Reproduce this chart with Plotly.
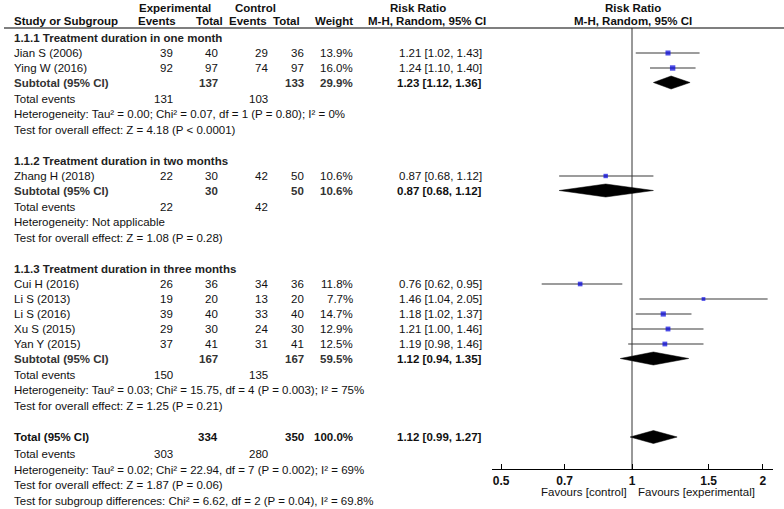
import numpy as np
import plotly.graph_objects as go

W, H = 784, 509
FONT = "Liberation Sans, Arial, sans-serif"

# ---- data ----
studies = ["Jian S (2006)", "Ying W (2016)", "Zhang H (2018)", "Cui H (2016)",
           "Li S (2013)", "Li S (2016)", "Xu S (2015)", "Yan Y (2015)"]
study_group = [0, 0, 1, 2, 2, 2, 2, 2]
exp_events = [39, 92, 22, 26, 19, 39, 29, 37]
exp_total = [40, 97, 30, 36, 20, 40, 30, 41]
ctrl_events = [29, 74, 42, 34, 13, 33, 24, 31]
ctrl_total = [36, 97, 50, 36, 20, 40, 30, 41]
weights = [13.9, 16.0, 10.6, 11.8, 7.7, 14.7, 12.9, 12.5]
rr = [1.21, 1.24, 0.87, 0.76, 1.46, 1.18, 1.21, 1.19]
rr_lo = [1.02, 1.10, 0.68, 0.62, 1.04, 1.02, 1.00, 0.98]
rr_hi = [1.43, 1.40, 1.12, 0.95, 2.05, 1.37, 1.46, 1.46]

groups = ["1.1.1 Treatment duration in one month",
          "1.1.2 Treatment duration in two months",
          "1.1.3 Treatment duration in three months"]
grp_exp_total = [137, 30, 167]
grp_ctrl_total = [133, 50, 167]
grp_exp_events = [131, 22, 150]
grp_ctrl_events = [103, 42, 135]
grp_weight = [29.9, 10.6, 59.5]
grp_rr = [1.23, 0.87, 1.12]
grp_lo = [1.12, 0.68, 0.94]
grp_hi = [1.36, 1.12, 1.35]
grp_het = ["Heterogeneity: Tau² = 0.00; Chi² = 0.07, df = 1 (P = 0.80); I² = 0%",
           "Heterogeneity: Not applicable",
           "Heterogeneity: Tau² = 0.03; Chi² = 15.75, df = 4 (P = 0.003); I² = 75%"]
grp_test = ["Test for overall effect: Z = 4.18 (P < 0.0001)",
            "Test for overall effect: Z = 1.08 (P = 0.28)",
            "Test for overall effect: Z = 1.25 (P = 0.21)"]

tot_exp_total, tot_ctrl_total = 334, 350
tot_exp_events, tot_ctrl_events = 303, 280
tot_weight = 100.0
tot_rr, tot_lo, tot_hi = 1.12, 0.99, 1.27
tot_het = "Heterogeneity: Tau² = 0.02; Chi² = 22.94, df = 7 (P = 0.002); I² = 69%"
tot_test = "Test for overall effect: Z = 1.87 (P = 0.06)"
sub_diff = "Test for subgroup differences: Chi² = 6.62, df = 2 (P = 0.04), I² = 69.8%"

tick_vals = [0.5, 0.7, 1, 1.5, 2]
tick_text = ["0.5", "0.7", "1", "1.5", "2"]

# ---- column x positions (px) ----
X_NAME = 14
X_EE, X_ET, X_CE, X_CT, X_W, X_RR = 173, 218, 268, 304, 353, 482
INK = "#111111"

annotations = []


def txt(x, y, s, anchor="left", bold=False, color=INK, size=11.5):
    annotations.append(dict(
        x=x / W, y=y, xref="paper", yref="y",
        text=f"<b>{s}</b>" if bold else s, showarrow=False,
        xanchor=anchor, yanchor="middle", borderpad=0, borderwidth=0,
        font=dict(family=FONT, size=size, color=color)))


def ci(v, lo, hi):
    return f"{v:.2f} [{lo:.2f}, {hi:.2f}]"


# headers
txt(175, 8, "Experimental", "center", True)
txt(256, 8, "Control", "center", True)
txt(418, 8, "Risk Ratio", "center", True)
txt(633, 8, "Risk Ratio", "center", True)
txt(X_NAME, 21, "Study or Subgroup", "left", True)
txt(176, 21, "Events", "right", True)
txt(223, 21, "Total", "right", True)
txt(267, 21, "Events", "right", True)
txt(300, 21, "Total", "right", True)
txt(353, 21, "Weight", "right", True)
txt(427, 21, "M-H, Random, 95% CI", "center", True)
txt(633, 21, "M-H, Random, 95% CI", "center", True)

# walk down the rows
study_y = [0.0] * len(studies)
grp_y = []
y = 38
for g in range(len(groups)):
    txt(X_NAME, y, groups[g], "left", True, "#222222")
    y += 15
    for i, s in enumerate(studies):
        if study_group[i] != g:
            continue
        study_y[i] = y
        txt(X_NAME, y, s)
        txt(X_EE, y, str(exp_events[i]), "right")
        txt(X_ET, y, str(exp_total[i]), "right")
        txt(X_CE, y, str(ctrl_events[i]), "right")
        txt(X_CT, y, str(ctrl_total[i]), "right")
        txt(X_W, y, f"{weights[i]:.1f}%", "right")
        txt(X_RR, y, ci(rr[i], rr_lo[i], rr_hi[i]), "right")
        y += 15
    y -= 0.5
    grp_y.append(y)
    txt(X_NAME, y, "Subtotal (95% CI)", "left", True, "#333333")
    txt(X_ET, y, str(grp_exp_total[g]), "right", True, "#333333")
    txt(X_CT, y, str(grp_ctrl_total[g]), "right", True, "#333333")
    txt(X_W, y, f"{grp_weight[g]:.1f}%", "right", True, "#333333")
    txt(X_RR, y, ci(grp_rr[g], grp_lo[g], grp_hi[g]), "right", True)
    y += 16
    txt(X_NAME, y, "Total events")
    txt(X_EE, y, str(grp_exp_events[g]), "right")
    txt(X_CE, y, str(grp_ctrl_events[g]), "right")
    y += 15.5
    txt(X_NAME, y, grp_het[g])
    y += 15.5
    txt(X_NAME, y, grp_test[g])
    y += 31.5

tot_y = y
txt(X_NAME, y, "Total (95% CI)", "left", True)
txt(X_ET, y, str(tot_exp_total), "right", True)
txt(X_CT, y, str(tot_ctrl_total), "right", True)
txt(X_W, y, f"{tot_weight:.1f}%", "right", True)
txt(X_RR, y, ci(tot_rr, tot_lo, tot_hi), "right", True)
y += 17
txt(X_NAME, y, "Total events")
txt(X_EE, y, str(tot_exp_events), "right")
txt(X_CE, y, str(tot_ctrl_events), "right")
y += 15.5
txt(X_NAME, y, tot_het)
y += 15.5
txt(X_NAME, y, tot_test)
y += 15.5
txt(X_NAME, y, sub_diff)

AXIS_Y = 469
txt(627, 492, "Favours [control]", "right")
txt(638, 492, "Favours [experimental]", "left")

fig = go.Figure()

# reference line at RR = 1
fig.add_trace(go.Scatter(x=[1, 1], y=[28, AXIS_Y], mode="lines",
                         line=dict(color="#333333", width=1), hoverinfo="skip"))

# study CIs
cx, cy = [], []
for i in range(len(studies)):
    cx += [rr_lo[i], rr_hi[i], None]
    cy += [study_y[i], study_y[i], None]
fig.add_trace(go.Scatter(x=cx, y=cy, mode="lines",
                         line=dict(color="#3a3a3a", width=1.2), hoverinfo="skip"))

# study point estimates, square area ~ weight
fig.add_trace(go.Scatter(
    x=rr, y=study_y, mode="markers",
    marker=dict(symbol="square", color="#0000dd",
                size=[1.35 * np.sqrt(w) for w in weights], line_width=0),
    hoverinfo="skip"))

# diamonds
HALF = 6.5
for v, lo, hi, yy in list(zip(grp_rr, grp_lo, grp_hi, grp_y)) + [(tot_rr, tot_lo, tot_hi, tot_y)]:
    fig.add_trace(go.Scatter(
        x=[lo, v, hi, v, lo], y=[yy, yy - HALF, yy, yy + HALF, yy],
        mode="lines", fill="toself", fillcolor="black",
        line=dict(color="black", width=0.5), hoverinfo="skip"))

# header rule
fig.add_shape(type="line", xref="paper", yref="y", x0=4 / W, x1=1, y0=28, y1=28,
              line=dict(color="black", width=1.2))

ax_left, ax_right = 492, 773
px_per_dec = 435.0
x_one = 632
fig.update_layout(
    width=W, height=H,
    margin=dict(l=0, r=0, t=0, b=0),
    paper_bgcolor="white", plot_bgcolor="white",
    showlegend=False,
    annotations=annotations,
    xaxis=dict(
        type="log", domain=[ax_left / W, ax_right / W],
        range=[(ax_left - x_one) / px_per_dec, (ax_right - x_one) / px_per_dec],
        anchor="free", position=(H - AXIS_Y) / H,
        showline=True, linecolor="black", linewidth=1.2,
        ticks="inside", ticklen=5, tickwidth=1.2, tickcolor="black",
        tickvals=tick_vals, ticktext=tick_text,
        tickfont=dict(family=FONT, size=12, color=INK, weight="bold"),
        showgrid=False, zeroline=False, fixedrange=True,
    ),
    yaxis=dict(range=[H, 0], domain=[0, 1], visible=False, fixedrange=True),
)

# the page body has a default 8px margin; drop it so the figure fills the window
fig.write_html("out.html", config={"displayModeBar": False},
               post_script="document.body.style.margin='0';document.body.style.overflow='hidden';")
